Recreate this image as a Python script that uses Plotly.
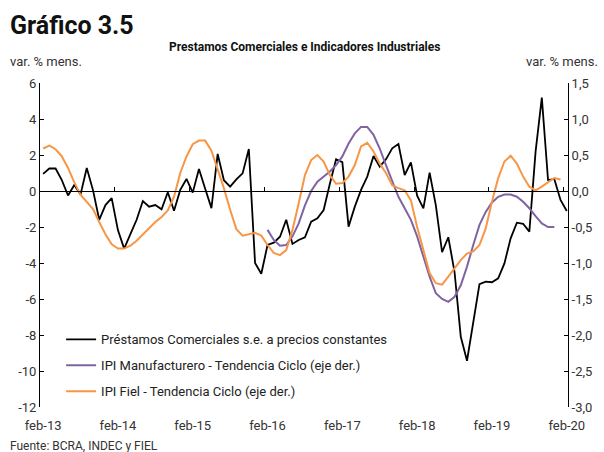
import plotly.graph_objects as go
import pandas as pd

# monthly categories feb-13 .. feb-20
meses = pd.date_range("2013-02-01", periods=85, freq="MS")
meses_es = ["ene", "feb", "mar", "abr", "may", "jun", "jul", "ago", "sep", "oct", "nov", "dic"]
etiquetas = [f"{meses_es[d.month - 1]}-{d.strftime('%y')}" for d in meses]

# Préstamos Comerciales s.e. a precios constantes (eje izq.)
prestamos = [0.95, 1.25, 1.25, 0.6, -0.25, 0.33, -0.2, 1.28, 0.05, -1.6,
             -0.78, -0.4, -2.17, -3.2, -2.4, -1.6, -0.56, -0.87, -0.78, -1.02,
             -0.07, -1.1, 0.06, 0.67, -0.09, 1.22, 0.13, -0.95, 2.06, 0.6,
             0.24, 0.65, 0.98, 2.33, -4.0, -4.6, -3.0, -2.87, -2.54, -1.6,
             -2.94, -2.72, -2.57, -1.7, -1.52, -1.06, 0.4, 1.76, 1.6, -1.98,
             -0.87, 0.06, 0.8, 1.94, 1.35, 1.76, 2.37, 2.61, 0.89, 1.59,
             -0.26, -0.96, 1.02, -0.8, -3.4, -2.57, -4.5, -8.1, -9.43, -7.26,
             -5.17, -5.04, -5.07, -4.85, -4.02, -2.63, -1.76, -1.82, -2.26, 2.19,
             5.19, 0.61, 0.67, -0.5, -1.11]

# IPI Manufacturero - Tendencia Ciclo (eje der.), desde feb-16
ipi_manuf = [None] * 36 + [
    -0.54, -0.68, -0.76, -0.75, -0.63, -0.45, -0.2, 0.0, 0.13, 0.2,
    0.27, 0.36, 0.48, 0.66, 0.8, 0.89, 0.89, 0.78, 0.59, 0.36,
    0.13, -0.08, -0.24, -0.4, -0.63, -0.91, -1.19, -1.42, -1.5, -1.54,
    -1.47, -1.31, -1.05, -0.75, -0.47, -0.29, -0.16, -0.08, -0.05, -0.05,
    -0.08, -0.15, -0.24, -0.35, -0.45, -0.5, -0.5]

# IPI Fiel - Tendencia Ciclo (eje der.)
ipi_fiel = [0.59, 0.63, 0.58, 0.48, 0.32, 0.12, -0.05, -0.15, -0.25, -0.43,
            -0.6, -0.74, -0.8, -0.8, -0.76, -0.69, -0.6, -0.51, -0.43, -0.36,
            -0.27, -0.08, 0.25, 0.48, 0.65, 0.7, 0.7, 0.56, 0.31, 0.04,
            -0.26, -0.53, -0.62, -0.6, -0.58, -0.62, -0.75, -0.86, -0.89, -0.82,
            -0.54, -0.17, 0.22, 0.43, 0.5, 0.41, 0.22, 0.1, 0.11, 0.2,
            0.36, 0.62, 0.67, 0.55, 0.38, 0.25, 0.08, 0.04, 0.01, -0.13,
            -0.5, -0.82, -1.14, -1.28, -1.3, -1.19, -1.07, -0.96, -0.87, -0.84,
            -0.75, -0.52, -0.15, 0.18, 0.41, 0.49, 0.38, 0.2, 0.06, 0.01,
            0.06, 0.12, 0.18, 0.16]

ticks_izq = [6, 4, 2, 0, -2, -4, -6, -8, -10, -12]
ticks_der = [1.5, 1.0, 0.5, 0.0, -0.5, -1.0, -1.5, -2.0, -2.5, -3.0]

x = list(range(len(meses)))
font = "Roboto, Arial, sans-serif"
gris = "#333333"

fig = go.Figure()
fig.add_trace(go.Scatter(x=x, y=prestamos, mode="lines", yaxis="y",
                         name="Préstamos Comerciales s.e. a precios constantes",
                         line=dict(color="#000000", width=1.8), legendgroup="a"))
fig.add_trace(go.Scatter(x=x[:len(ipi_manuf)], y=ipi_manuf, mode="lines", yaxis="y2",
                         name="IPI Manufacturero - Tendencia Ciclo (eje der.)",
                         line=dict(color="#8064A2", width=2), legendgroup="b"))
fig.add_trace(go.Scatter(x=x[:len(ipi_fiel)], y=ipi_fiel, mode="lines", yaxis="y2",
                         name="IPI Fiel - Tendencia Ciclo (eje der.)",
                         line=dict(color="#F79646", width=2), legendgroup="c"))
# dummy trace so the zero-line axis is drawn
fig.add_trace(go.Scatter(x=[x[0]], y=[0], xaxis="x2", mode="lines", showlegend=False,
                         hoverinfo="skip", line=dict(width=0)))

xr = [-0.5, 84.2]
fig.update_layout(
    width=604, height=452,
    margin=dict(l=40, r=36, t=83, b=45),
    paper_bgcolor="white", plot_bgcolor="white",
    font=dict(family=font, size=13, color=gris),
    showlegend=True,
    legend=dict(x=0.04, y=0.255, xanchor="left", yanchor="top",
                bgcolor="rgba(0,0,0,0)", tracegroupgap=6,
                font=dict(size=13, color="#222222")),
    xaxis=dict(range=xr, showgrid=False, zeroline=False, showline=False,
               tickmode="array", tickvals=x[::12], ticktext=etiquetas[::12],
               ticks="", ticklabelstandoff=9, tickfont=dict(size=13, color=gris)),
    xaxis2=dict(range=xr, overlaying="x", anchor="free", position=12 / 18,
                showgrid=False, zeroline=False, showline=True, linecolor="#000000",
                linewidth=1, tickmode="array",
                tickvals=[v - 0.5 for v in x[12::12]],
                ticks="inside", ticklen=4, tickcolor="#000000",
                showticklabels=False),
    yaxis=dict(range=[-12, 6], showgrid=False, zeroline=False, showline=True,
               linecolor="#000000", linewidth=1, ticks="inside", ticklen=4,
               tickcolor="#000000", tickmode="array", tickvals=ticks_izq,
               ticktext=[str(v) for v in ticks_izq], tickfont=dict(size=13, color=gris)),
    yaxis2=dict(range=[-3, 1.5], overlaying="y", side="right", showgrid=False,
                zeroline=False, showline=True, linecolor="#000000", linewidth=1,
                ticks="inside", ticklen=4, tickcolor="#000000", tickmode="array",
                tickvals=ticks_der,
                ticktext=[f"{v:.1f}".replace(".", ",") for v in ticks_der],
                tickfont=dict(size=13, color=gris)),
)

fig.add_annotation(text="<b>Gráfico 3.5</b>", xref="paper", yref="paper",
                   x=-0.061, y=1.179, xanchor="left", yanchor="middle", showarrow=False,
                   font=dict(size=25, color="#111111", family=font))
fig.add_annotation(text="<b>Prestamos Comerciales e Indicadores Industriales</b>",
                   xref="paper", yref="paper", x=0.5, y=1.111, xanchor="center",
                   yanchor="middle", showarrow=False, font=dict(size=12, color="#111111"))
fig.add_annotation(text="var. % mens.", xref="paper", yref="paper", x=-0.061, y=1.065,
                   xanchor="left", yanchor="middle", showarrow=False,
                   font=dict(size=13, color=gris))
fig.add_annotation(text="var. % mens.", xref="paper", yref="paper", x=1.0606, y=1.065,
                   xanchor="right", yanchor="middle", showarrow=False,
                   font=dict(size=13, color=gris))
fig.add_annotation(text="Fuente: BCRA, INDEC y FIEL", xref="paper", yref="paper",
                   x=-0.061, y=-0.119, xanchor="left", yanchor="middle", showarrow=False,
                   font=dict(size=12, color=gris))

# the page body has an 8px default margin; remove it so the figure fills the window
fig.write_html("out.html", config={"displayModeBar": False},
               post_script="document.body.style.margin='0';document.body.style.overflow='hidden';")
